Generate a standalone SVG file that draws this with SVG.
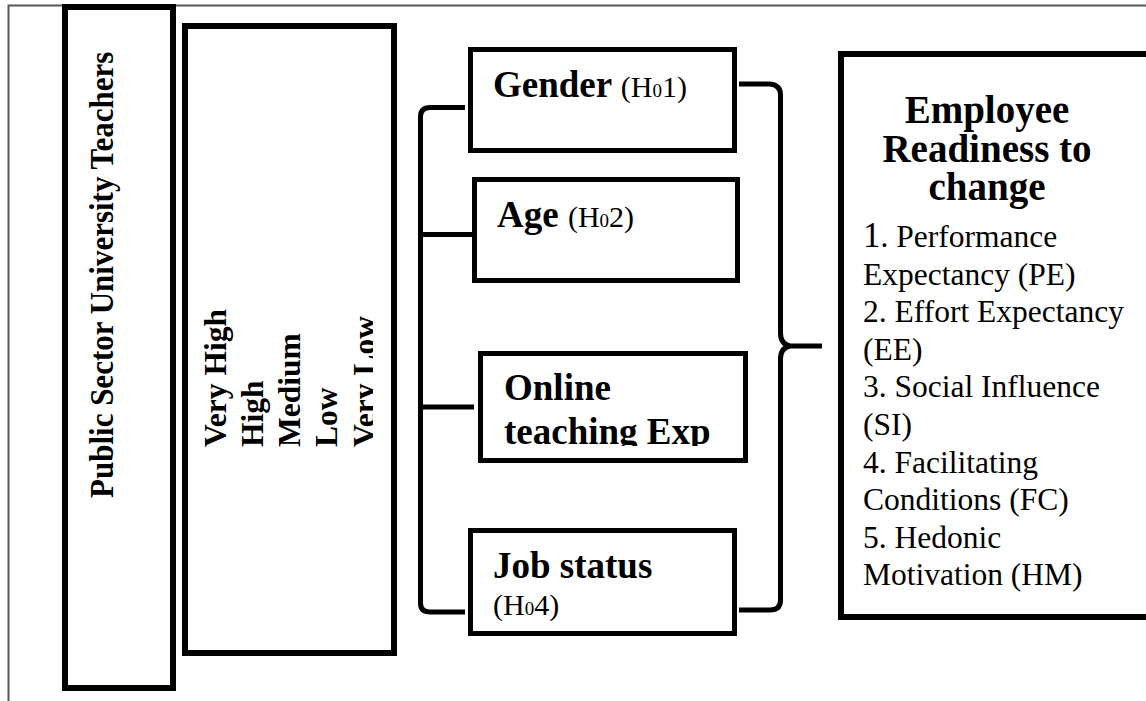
<svg xmlns="http://www.w3.org/2000/svg" width="1146" height="701" viewBox="0 0 1146 701">
  <style>
    .frame { fill: none; stroke: #575757; stroke-width: 2; }
    .box { fill: #fff; stroke: #000; stroke-width: 5; }
    .thick { stroke-width: 6; }
    .link { fill: none; stroke: #000; stroke-width: 5; }
    .t { font-family: "Liberation Serif", "Times New Roman", serif; fill: #000; }
    .b { font-weight: bold; }
    .lbl { font-size: 37px; font-weight: bold; }
    .hyp { font-size: 30px; font-weight: normal; }
    .sub { font-size: 19px; }
    .scale { font-size: 31.5px; font-weight: bold; }
    .head { font-size: 39px; font-weight: bold; text-anchor: middle; }
    .item { font-size: 31.5px; }
  </style>
  <defs>
    <clipPath id="scaleClip"><rect x="187" y="29" width="186" height="621"/></clipPath>
    <clipPath id="onlineClip"><rect x="484" y="357" width="259" height="89"/></clipPath>
  </defs>

  <rect width="1146" height="701" fill="#fff"/>
  <path class="frame" d="M8.5,701 V5.5 H1146"/>

  <!-- population -->
  <g id="teachers">
    <rect class="box thick" x="65" y="7" width="108" height="681"/>
    <text class="t b" font-size="31" transform="translate(113,498) rotate(-90) scale(1,1.06)">Public Sector University Teachers</text>
  </g>

  <!-- readiness scale -->
  <g id="scale">
    <rect class="box thick" x="185" y="26" width="209" height="627"/>
    <g clip-path="url(#scaleClip)">
      <text class="t scale" transform="translate(226,447) rotate(-90)">Very High</text>
      <text class="t scale" transform="translate(263,447) rotate(-90)">High</text>
      <text class="t scale" transform="translate(300,447) rotate(-90)">Medium</text>
      <text class="t scale" transform="translate(337,447) rotate(-90)">Low</text>
      <text class="t scale" transform="translate(375,447) rotate(-90)">Very Low</text>
    </g>
  </g>

  <!-- demographic variables -->
  <g id="gender">
    <rect class="box" x="470.5" y="49.5" width="264" height="101"/>
    <text class="t" x="493" y="97"><tspan class="lbl">Gender </tspan><tspan class="hyp">(H<tspan class="sub">0</tspan>1)</tspan></text>
  </g>
  <g id="age">
    <rect class="box" x="474.5" y="179.5" width="263" height="101"/>
    <text class="t" x="497" y="227"><tspan class="lbl">Age </tspan><tspan class="hyp">(H<tspan class="sub">0</tspan>2)</tspan></text>
  </g>
  <g id="online">
    <rect class="box" x="480.5" y="353.5" width="265" height="107"/>
    <g clip-path="url(#onlineClip)">
      <text class="t lbl" x="504" y="400">Online</text>
      <text class="t lbl" x="504" y="444">teaching Exp</text>
    </g>
  </g>
  <g id="job">
    <rect class="box" x="470.5" y="530.5" width="264" height="103"/>
    <text class="t lbl" x="493" y="578">Job status</text>
    <text class="t hyp" x="493" y="615">(H<tspan class="sub">0</tspan>4)</text>
  </g>

  <!-- outcome -->
  <g id="readiness">
    <rect class="box thick" x="841" y="54" width="320" height="563"/>
    <text class="t head" x="987" y="123">Employee</text>
    <text class="t head" x="987" y="162">Readiness to</text>
    <text class="t head" x="987" y="200">change</text>
    <text class="t item" x="863" y="247"><tspan font-size="35">1</tspan>. Performance</text>
    <text class="t item" x="863" y="284.6">Expectancy (PE)</text>
    <text class="t item" x="863" y="322.2">2. Effort Expectancy</text>
    <text class="t item" x="863" y="359.8">(EE)</text>
    <text class="t item" x="863" y="397.4">3. Social Influence</text>
    <text class="t item" x="863" y="435">(SI)</text>
    <text class="t item" x="863" y="472.6">4. Facilitating</text>
    <text class="t item" x="863" y="510.2">Conditions (FC)</text>
    <text class="t item" x="863" y="547.8">5. Hedonic</text>
    <text class="t item" x="863" y="585.4">Motivation (HM)</text>
  </g>

  <!-- brackets -->
  <g id="connectors">
    <path class="link" d="M465,107.5 H430 Q420.5,107.5 420.5,117 V603 Q420.5,612 430,612 H465"/>
    <path class="link" d="M420.5,234.5 H472"/>
    <path class="link" d="M420.5,407 H474"/>
    <path class="link" d="M739,84 H770 Q780.5,85 780.5,95 V333 Q780.5,344 790,346 H822 M790,346 Q780.5,348 780.5,359 V600 Q780.5,610 770,610 H739"/>
  </g>
</svg>
